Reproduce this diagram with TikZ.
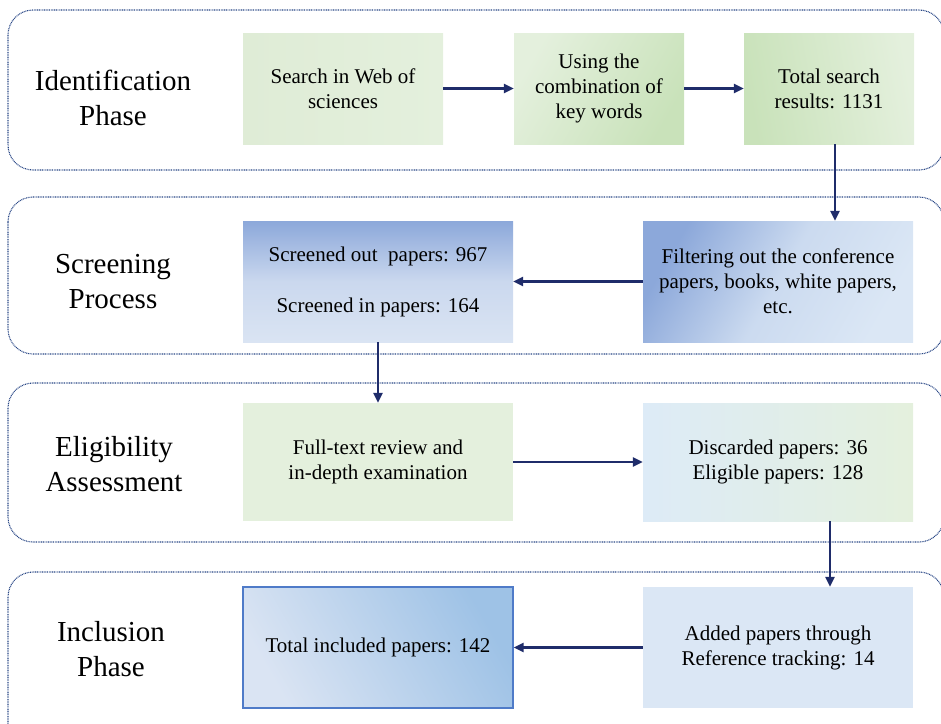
\documentclass[tikz,border=0pt]{standalone}
\usepackage{fontspec}
\setmainfont{Liberation Serif}
\usetikzlibrary{arrows.meta,calc}

\definecolor{framec}{HTML}{284685}
\definecolor{arrowc}{HTML}{1F2C6A}
\definecolor{greenA}{HTML}{DFECD6}
\definecolor{greenB}{HTML}{C9E2BA}
\definecolor{greenC}{HTML}{E4F0DD}
\definecolor{blueA}{HTML}{8CA8DA}
\definecolor{blueB}{HTML}{DAE4F3}
\definecolor{blueC}{HTML}{9EC2E6}
\definecolor{blueD}{HTML}{DBE7F5}
\definecolor{blueE}{HTML}{DDEBF7}
\definecolor{borderc}{HTML}{4F7BC8}

\tikzset{
  phaseframe/.style={draw=framec, line width=1.1pt, dash pattern=on 0.9pt off 0.8pt, rounded corners=25pt},
  phaselabel/.style={font=\fontsize{29}{35}\selectfont, align=center},
  stagebox/.style={font=\fontsize{21}{25}\selectfont, align=center, inner sep=0pt, draw=none},
  flow/.style={draw=arrowc, line width=2.4pt, -{Triangle[length=10pt,width=9pt]}},
}

\begin{document}
\begin{tikzpicture}[x=1pt,y=-1pt]
\useasboundingbox (0,0) rectangle (941,723);

\begin{scope}
  \clip (0,0) rectangle (941,723);
  % dotted phase bands
  \draw[phaseframe] (8,10) rectangle (944,170);
  \draw[phaseframe] (8,197) rectangle (944,354);
  \draw[phaseframe] (8,383) rectangle (944,542);
  \draw[phaseframe] (8,572) rectangle (944,748);
\end{scope}

% phase titles
\node[phaselabel] (p1) at (113,98) {Identification\\Phase};
\node[phaselabel] (p2) at (113,282) {Screening\\Process};
\node[phaselabel] (p3) at (114,464) {Eligibility\\Assessment};
\node[phaselabel] (p4) at (111,649) {Inclusion\\Phase};

% identification
\node[stagebox, minimum width=200pt, minimum height=111pt,
      left color=greenA, right color=greenC] (search) at (343,88.5)
      {Search in Web of\\sciences};
\node[stagebox, minimum width=170pt, minimum height=111pt,
      left color=greenC, right color=greenB, shading angle=60] (keys) at (599,88.5)
      {Using the\\combination of\\key words};
\node[stagebox, minimum width=170pt, minimum height=111pt,
      left color=greenB, right color=greenC, shading angle=100] (total) at (829,88.5)
      {Total search\\results: 1131};

% screening
\node[stagebox, minimum width=270pt, minimum height=121pt,
      top color=blueA, bottom color=blueB, middle color=blueB!80!blueA] (screen) at (378,281.5)
      {Screened out\ \ papers: 967\\[26pt]Screened in papers: 164};
\node[stagebox, minimum width=270pt, minimum height=121pt,
      left color=blueA, right color=blueD, middle color=blueD!80!blueA, shading angle=60] (filter) at (778,281.5)
      {Filtering out the conference\\papers, books, white papers,\\etc.};

% eligibility
\node[stagebox, minimum width=270pt, minimum height=118pt, fill=greenC] (review) at (378,462)
      {Full-text review and\\in-depth examination};
\node[stagebox, minimum width=270pt, minimum height=118pt,
      left color=blueE, right color=greenC] (eligible) at (778,462)
      {Discarded papers: 36\\Eligible papers: 128};

% inclusion
\node[stagebox, draw=borderc, line width=1.2pt, minimum width=270pt, minimum height=121pt,
      left color=blueB, right color=blueC, shading angle=120] (included) at (378,647.5)
      {Total included papers: 142};
\node[stagebox, minimum width=270pt, minimum height=121pt, fill=blueD] (added) at (778,647.5)
      {Added papers through\\Reference tracking: 14};

% flow connectors
\draw[flow] (search) -- (keys);
\draw[flow] (keys) -- (total);
\draw[flow] ([xshift=6pt]total.south) -- ([xshift=6pt]total.south |- filter.north);
\draw[flow] (filter) -- (screen);
\draw[flow] (screen) -- (review);
\draw[flow] (review) -- (eligible);
\draw[flow] ([xshift=52pt]eligible.south) -- ([xshift=52pt]eligible.south |- added.north);
\draw[flow] (added) -- (included);
\end{tikzpicture}
\end{document}
